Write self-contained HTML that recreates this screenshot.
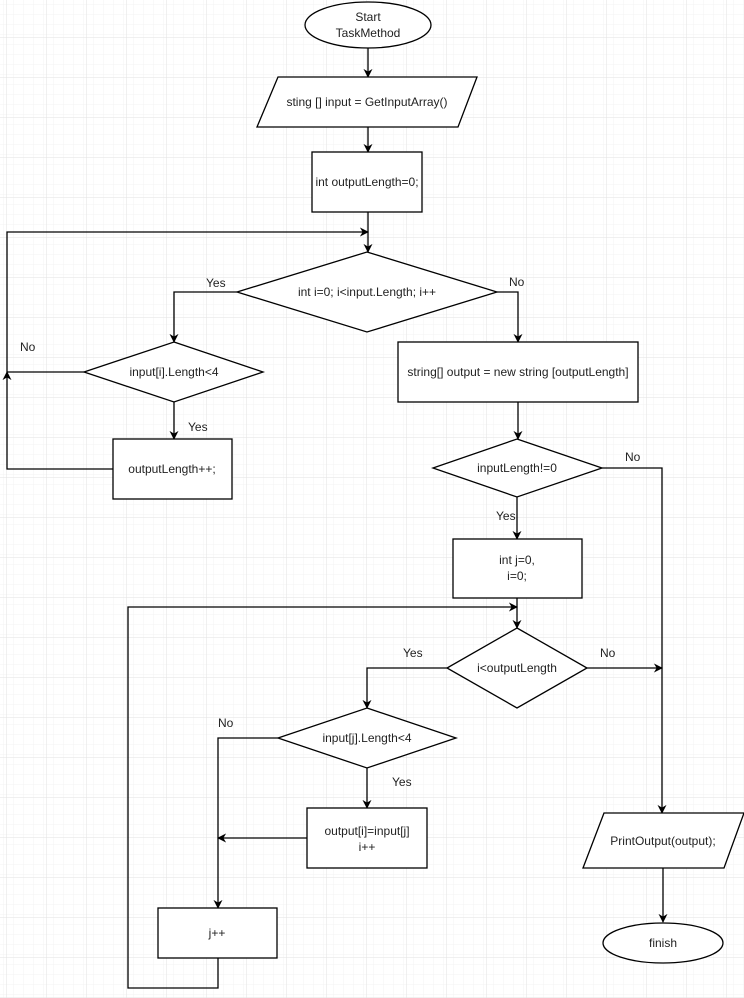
<!DOCTYPE html>
<html><head><meta charset="utf-8"><style>
html,body{margin:0;padding:0;background:#fff;}
svg{display:block;}
text{font-family:"Liberation Sans",Arial,sans-serif;font-size:12px;fill:#222;}
</style></head><body>
<svg width="744" height="998" viewBox="0 0 744 998" xmlns="http://www.w3.org/2000/svg">
<defs>
<pattern id="minor" x="-3" y="-3" width="10" height="10" patternUnits="userSpaceOnUse">
<path d="M10 0V10M0 10H10" stroke="#f3f3f3" stroke-width="1" fill="none"/>
</pattern>
<pattern id="major" x="6.5" y="-2.5" width="40" height="40" patternUnits="userSpaceOnUse">
<rect width="40" height="40" fill="url(#minor)"/>
<path d="M0 0V40M0 0H40" stroke="#e2e2e2" stroke-width="1" fill="none"/>
</pattern>
<marker id="a" viewBox="0 0 10 10" refX="9" refY="5" markerWidth="9" markerHeight="9" orient="auto" markerUnits="userSpaceOnUse">
<path d="M0 0L10 5L0 10L3 5z" fill="#000"/>
</marker>
</defs>
<rect width="744" height="998" fill="#fff"/>
<rect width="744" height="998" fill="url(#major)"/>
<g stroke="#000" stroke-width="1.3" fill="none">
<!-- connectors -->
<path d="M368 48V77" marker-end="url(#a)"/>
<path d="M368 127V152" marker-end="url(#a)"/>
<path d="M368 212V252" marker-end="url(#a)"/>
<path d="M7 372V232H368" marker-end="url(#a)"/>
<path d="M237 292H174V342" marker-end="url(#a)"/>
<path d="M497 292H518V342" marker-end="url(#a)"/>
<path d="M84 372H7"/>
<path d="M113 469H7V372" marker-end="url(#a)"/>
<path d="M174 402V439" marker-end="url(#a)"/>
<path d="M518 402V439" marker-end="url(#a)"/>
<path d="M602 468H662V813" marker-end="url(#a)"/>
<path d="M517 497V539" marker-end="url(#a)"/>
<path d="M517 598V628" marker-end="url(#a)"/>
<path d="M218 958V988H128V607H517" marker-end="url(#a)"/>
<path d="M447 668H367V708" marker-end="url(#a)"/>
<path d="M587 668H662" marker-end="url(#a)"/>
<path d="M278 738H218V908" marker-end="url(#a)"/>
<path d="M367 768V808" marker-end="url(#a)"/>
<path d="M307 838H218" marker-end="url(#a)"/>
<path d="M663 868V922" marker-end="url(#a)"/>
</g>
<g stroke="#000" stroke-width="1.3" fill="#fff">
<ellipse cx="368" cy="25" rx="63" ry="23"/>
<path d="M278 77H477L458 127H257Z"/>
<rect x="312" y="152" width="110" height="60"/>
<path d="M367 252L497 292L367 332L237 292Z"/>
<path d="M174 342L263 372L174 402L84 372Z"/>
<rect x="113" y="439" width="119" height="60"/>
<rect x="398" y="342" width="240" height="60"/>
<path d="M517 439L602 468L517 497L433 468Z"/>
<rect x="453" y="539" width="129" height="59"/>
<path d="M517 628L587 668L517 708L447 668Z"/>
<path d="M367 708L456 738L367 768L278 738Z"/>
<rect x="307" y="808" width="120" height="60"/>
<rect x="158" y="908" width="119" height="50"/>
<path d="M604 813H744L724 868H583Z"/>
<ellipse cx="663" cy="943" rx="60" ry="20"/>
</g>
<g text-anchor="middle">
<text x="368" y="21">Start</text>
<text x="368" y="37">TaskMethod</text>
<text x="367" y="106">sting [] input = GetInputArray()</text>
<text x="367" y="186">int outputLength=0;</text>
<text x="367" y="296">int i=0; i&lt;input.Length; i++</text>
<text x="174" y="376">input[i].Length&lt;4</text>
<text x="172" y="473">outputLength++;</text>
<text x="518" y="376">string[] output = new string [outputLength]</text>
<text x="517" y="472">inputLength!=0</text>
<text x="517" y="564">int j=0,</text>
<text x="517" y="580">i=0;</text>
<text x="517" y="672">i&lt;outputLength</text>
<text x="367" y="742">input[j].Length&lt;4</text>
<text x="367" y="835">output[i]=input[j]</text>
<text x="367" y="851">i++</text>
<text x="217" y="937">j++</text>
<text x="663" y="845">PrintOutput(output);</text>
<text x="663" y="947">finish</text>
</g>
<g>
<text x="206" y="287">Yes</text>
<text x="509" y="286">No</text>
<text x="20" y="351">No</text>
<text x="188" y="431">Yes</text>
<text x="625" y="461">No</text>
<text x="496" y="520">Yes</text>
<text x="403" y="657">Yes</text>
<text x="600" y="657">No</text>
<text x="218" y="727">No</text>
<text x="392" y="786">Yes</text>
</g>
</svg>
</body></html>
